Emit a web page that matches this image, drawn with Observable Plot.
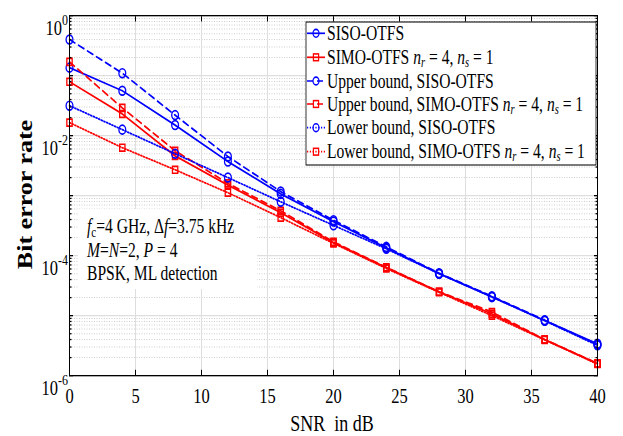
<!DOCTYPE html>
<html><head><meta charset="utf-8">
<script src="https://cdn.jsdelivr.net/npm/d3@7"></script>
<script src="https://cdn.jsdelivr.net/npm/@observablehq/plot@0.6"></script>
<style>
html,body{margin:0;padding:0;background:#fff;}
#chart{width:623px;height:436px;overflow:hidden;}
</style>
</head><body><div id="chart"></div>
<script>
// ---- data ----
const snr = [0, 4, 8, 12, 16, 20, 24, 28, 32, 36, 40];
const sisoSim   = [0.136, 0.056, 0.015, 3.7e-3, 1.07e-3, 3.7e-4, 1.35e-4, 5.0e-5, 2.05e-5, 8.3e-6, 3.4e-6];
const simoSim   = [0.079, 0.023, 4.6e-3, 1.5e-3, 5.2e-4, 1.65e-4, 6.3e-5, 2.5e-5, 1.07e-5, 4.0e-6, 1.58e-6];
const sisoUpper = [0.40, 0.11, 0.022, 4.5e-3, 1.17e-3, 3.9e-4, 1.4e-4, 5.1e-5, 2.1e-5, 8.4e-6, 3.3e-6];
const simoUpper = [0.17, 0.029, 5.6e-3, 1.6e-3, 5.6e-4, 1.7e-4, 6.4e-5, 2.5e-5, 1.15e-5, 4.0e-6, 1.6e-6];
const sisoLower = [0.0316, 0.0126, 5.0e-3, 2.0e-3, 7.9e-4, 3.2e-4, 1.3e-4, 5.0e-5, 2.05e-5, 8.2e-6, 3.2e-6];
const simoLower = [0.0165, 6.3e-3, 2.7e-3, 1.12e-3, 4.3e-4, 1.6e-4, 6.1e-5, 2.45e-5, 1.0e-5, 3.95e-6, 1.56e-6];

const xTicks = [0, 5, 10, 15, 20, 25, 30, 35, 40];
const yExponents = [-6, -4, -2, 0];
const yDecades = [-6, -5, -4, -3, -2, -1, 0];

const BLUE = "#0000ff", RED = "#ff0000";
const series = [
  {name: "SISO-OTFS", values: sisoSim, color: BLUE, dash: null, symbol: "circle"},
  {name: "SIMO", values: simoSim, color: RED, dash: null, symbol: "square"},
  {name: "Upper bound, SISO-OTFS", values: sisoUpper, color: BLUE, dash: "6,4", symbol: "circle"},
  {name: "Upper SIMO", values: simoUpper, color: RED, dash: "6,4", symbol: "square"},
  {name: "Lower bound, SISO-OTFS", values: sisoLower, color: BLUE, dash: "1.2,1.6", symbol: "circle"},
  {name: "Lower SIMO", values: simoLower, color: RED, dash: "1.2,1.6", symbol: "square"}
];
const legendLabels = ["SISO-OTFS", "SIMO-OTFS ", "Upper bound, SISO-OTFS", "Upper bound, SIMO-OTFS ",
  "Lower bound, SISO-OTFS", "Lower bound, SIMO-OTFS "];

// tick value lists
const majorY = yDecades.map(e => Math.pow(10, e));
const labelY = yExponents.map(e => Math.pow(10, e));
const minorY = [];
for (const e of yDecades.slice(0, -1)) for (let m = 2; m <= 9; m++) minorY.push(m * Math.pow(10, e));

// ---- layout (internal coords, later stretched vertically) ----
const W = 623, OUTH = 436, S = 1.3015, H = OUTH / S;
const mTop = 15 / S, mBottom = H - 375 / S;

const marks = [
  Plot.ruleY(minorY, {stroke: "#cfcfcf", strokeDasharray: "1,1.5", strokeWidth: 0.8}),
  Plot.ruleY(majorY, {stroke: "#dedede", strokeWidth: 1}),
  Plot.ruleX(xTicks, {stroke: "#dedede", strokeWidth: 1})
];
for (const s of series) {
  const table = snr.map((x, i) => ({snr: x, ber: s.values[i]}));
  marks.push(Plot.line(table, {x: "snr", y: "ber", stroke: s.color, strokeWidth: 1.4, strokeDasharray: s.dash}));
  marks.push(Plot.dot(table, {x: "snr", y: "ber", stroke: s.color, fill: "none", strokeWidth: 1.3,
    symbol: s.symbol, r: s.symbol === "circle" ? 3.4 : 3.0}));
}
const blank = () => "";
marks.push(
  Plot.axisX(xTicks, {anchor: "bottom", tickSize: 0, tickPadding: 9, fontSize: 16.5, label: null}),
  Plot.axisX(xTicks, {anchor: "bottom", tickSize: -4, tickFormat: blank, label: null}),
  Plot.axisX(xTicks, {anchor: "top", tickSize: -4, tickFormat: blank, label: null}),
  Plot.axisY(labelY, {anchor: "left", tickSize: 0, tickPadding: 1.5, fontSize: 16.5, label: null,
    tickFormat: d => String(Math.round(Math.log10(d)))}),
  Plot.axisY(majorY, {anchor: "left", tickSize: -4, tickFormat: blank, label: null}),
  Plot.axisY(minorY, {anchor: "left", tickSize: -2.5, tickFormat: blank, label: null}),
  Plot.axisY(majorY, {anchor: "right", tickSize: -4, tickFormat: blank, label: null}),
  Plot.axisY(minorY, {anchor: "right", tickSize: -2.5, tickFormat: blank, label: null}),
  Plot.frame({stroke: "black", strokeWidth: 1})
);

const svgNode = Plot.plot({
  width: W, height: H,
  marginLeft: 69, marginRight: 26, marginTop: mTop, marginBottom: mBottom,
  x: {domain: [0, 40], label: null},
  y: {type: "log", domain: [1e-6, 1], label: null},
  style: {fontFamily: "'Liberation Serif', 'DejaVu Serif', serif", background: "white", color: "black"},
  marks
});

const svg = d3.select(svgNode);
svg.attr("height", OUTH).attr("preserveAspectRatio", "none")
   .style("height", OUTH + "px").style("width", W + "px").style("max-width", "none");

// remove empty tick-label texts of the tick-only axes
svg.selectAll('g[aria-label$="tick label"] text').filter(function () { return this.textContent === ""; }).remove();

// y tick labels as 10^e
svg.selectAll('g[aria-label="y-axis tick label"] text').each(function () {
  const t = d3.select(this);
  const e = t.text();
  t.text(null).attr("dy", "0.58em");
  t.append("tspan").text("10");
  t.append("tspan").attr("dy", "-0.65em").attr("font-size", 12).text(e);
});

const FONT = "'Liberation Serif', 'DejaVu Serif', serif";

// white box behind annotation (under the data lines)
svg.insert("rect", 'g[aria-label="line"]')
  .attr("x", 78).attr("y", 209 / S).attr("width", 179).attr("height", 80 / S).attr("fill", "white");

// annotation
const ann = svg.append("g").attr("font-family", FONT).attr("font-size", 15.6).attr("fill", "black").attr("text-anchor", "start");
const l1 = ann.append("text").attr("x", 87).attr("y", 179);
l1.append("tspan").attr("font-style", "italic").text("f");
l1.append("tspan").attr("font-size", 11).attr("dy", 3).text("c");
l1.append("tspan").attr("dy", -3).text("=4 GHz, \u0394");
l1.append("tspan").attr("font-style", "italic").text("f");
l1.append("tspan").text("=3.75 kHz");
const l2 = ann.append("text").attr("x", 87).attr("y", 197.6);
l2.append("tspan").attr("font-style", "italic").text("M");
l2.append("tspan").text("=");
l2.append("tspan").attr("font-style", "italic").text("N");
l2.append("tspan").text("=2, ");
l2.append("tspan").attr("font-style", "italic").text("P");
l2.append("tspan").text(" = 4");
ann.append("text").attr("x", 87).attr("y", 215).text("BPSK, ML detection");

// axis titles
svg.append("text").attr("x", 332).attr("y", 431 / S).attr("text-anchor", "middle")
  .attr("font-family", FONT).attr("font-size", 18).style("white-space", "pre").text("SNR  in dB");
svg.append("text").attr("transform", `translate(32,${194.5 / S}) rotate(-90)`).attr("text-anchor", "middle")
  .attr("font-family", FONT).attr("font-size", 20).attr("font-weight", "bold").text("Bit error rate");

// legend
const lg = svg.append("g").attr("font-family", FONT).attr("font-size", 15.6).attr("text-anchor", "start");
lg.append("rect").attr("x", 306).attr("y", 22 / S).attr("width", 290).attr("height", 143 / S)
  .attr("fill", "white").attr("stroke", "black").attr("stroke-width", 0.8);
const rowY = [33.3, 57.3, 81, 104, 127.7, 151.7].map(v => v / S);
series.forEach((s, i) => {
  const y = rowY[i];
  lg.append("line").attr("x1", 307).attr("x2", 325).attr("y1", y).attr("y2", y)
    .attr("stroke", s.color).attr("stroke-width", 1.3).attr("stroke-dasharray", s.dash);
  if (s.symbol === "circle") {
    lg.append("circle").attr("cx", 316).attr("cy", y).attr("r", 3.0).attr("fill", "none").attr("stroke", s.color).attr("stroke-width", 1.2);
  } else {
    lg.append("rect").attr("x", 313.4).attr("y", y - 2.6).attr("width", 5.2).attr("height", 5.2).attr("fill", "none").attr("stroke", s.color).attr("stroke-width", 1.2);
  }
  const t = lg.append("text").attr("x", 327).attr("y", y).attr("dy", "0.33em");
  t.append("tspan").style("white-space", "pre").text(legendLabels[i]);
  if (s.color === RED) {
    t.append("tspan").attr("font-style", "italic").text("n");
    t.append("tspan").attr("font-size", 10.5).attr("font-style", "italic").attr("dy", 2.2).text("r");
    t.append("tspan").attr("dy", -2.2).style("white-space", "pre").text(" = 4, ");
    t.append("tspan").attr("font-style", "italic").text("n");
    t.append("tspan").attr("font-size", 10.5).attr("font-style", "italic").attr("dy", 2.2).text("s");
    t.append("tspan").attr("dy", -2.2).style("white-space", "pre").text(" = 1");
  }
});

document.getElementById("chart").appendChild(svgNode);
</script>
</body></html>
